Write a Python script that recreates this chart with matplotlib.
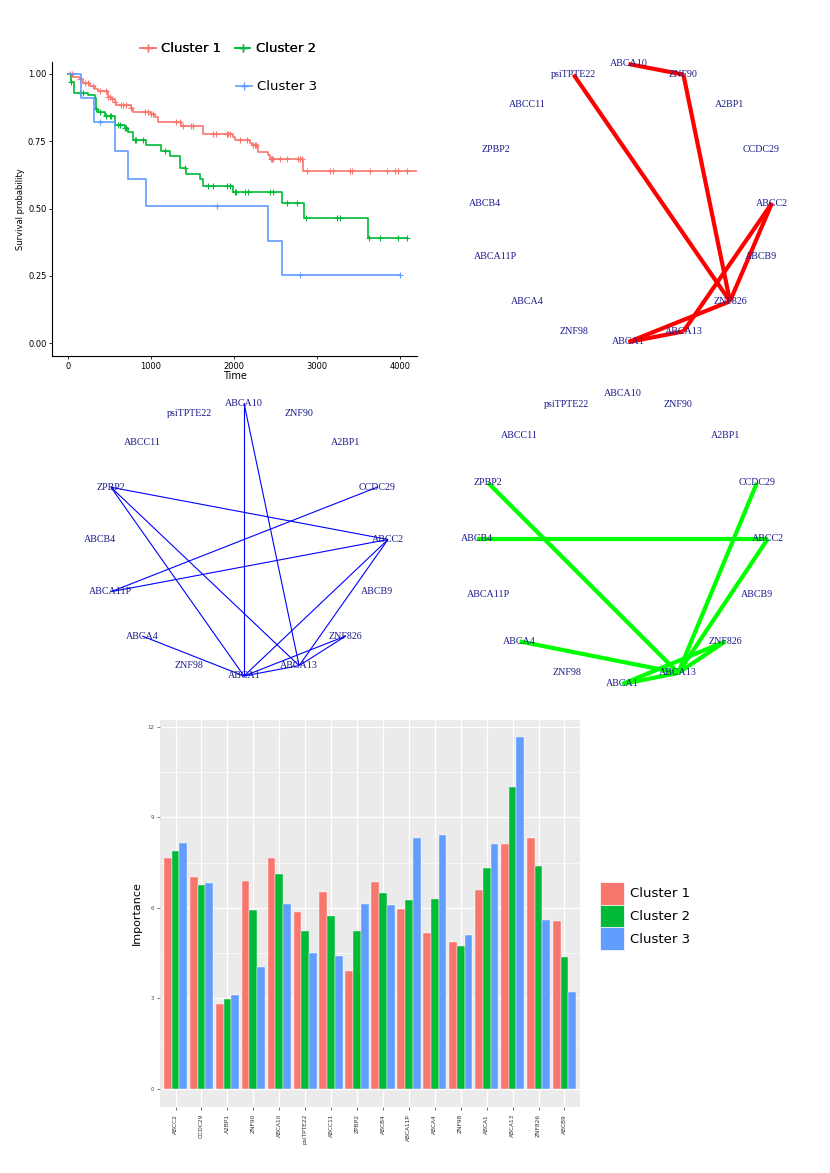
import matplotlib
matplotlib.use("Agg")
import matplotlib.pyplot as plt
from matplotlib.lines import Line2D
from matplotlib.patches import Patch
import numpy as np

W, H = 830, 1173

# ---- data ----
genes = ["ABCC2", "CCDC29", "A2BP1", "ZNF90", "ABCA10", "psiTPTE22", "ABCC11", "ZPBP2",
         "ABCB4", "ABCA11P", "ABCA4", "ZNF98", "ABCA1", "ABCA13", "ZNF826", "ABCB9"]
clusters = ["Cluster 1", "Cluster 2", "Cluster 3"]
colors = ["#F8766D", "#00BA38", "#619CFF"]

imp1 = [7.66, 7.03, 2.80, 6.90, 7.66, 5.85, 6.53, 3.91, 6.87, 5.95, 5.16, 4.86, 6.61, 8.12, 8.32, 5.57]
imp2 = [7.88, 6.76, 2.97, 5.93, 7.11, 5.25, 5.72, 5.22, 6.51, 6.26, 6.30, 4.73, 7.34, 10.01, 7.40, 4.38]
imp3 = [8.16, 6.81, 3.10, 4.04, 6.14, 4.51, 4.41, 6.12, 6.10, 8.31, 8.42, 5.10, 8.12, 11.65, 5.60, 3.20]

# Kaplan-Meier steps (time, survival), last follow-up time, censor times
times1 = [0, 60, 141, 181, 261, 322, 362, 482, 523, 563, 583, 764, 784, 1005, 1045, 1085,
          1367, 1628, 1990, 2010, 2191, 2211, 2291, 2412, 2432, 2834]
surv1 = [1.0, 0.99, 0.98, 0.965, 0.955, 0.945, 0.935, 0.915, 0.905, 0.895, 0.885, 0.875, 0.86,
         0.85, 0.84, 0.82, 0.805, 0.775, 0.765, 0.755, 0.745, 0.735, 0.71, 0.70, 0.685, 0.64]
end1 = 4300
cens1 = [20, 52, 141, 201, 241, 302, 382, 454, 482, 503, 535, 563, 643, 663, 704, 764, 925, 965,
         1005, 1025, 1307, 1347, 1387, 1487, 1508, 1749, 1789, 1910, 1930, 1950, 2070, 2151,
         2231, 2251, 2271, 2440, 2452, 2472, 2553, 2633, 2774, 2794, 2814, 2874, 3156, 3196,
         3397, 3417, 3638, 3839, 3940, 3980, 4080]

times2 = [0, 32, 68, 241, 322, 342, 362, 442, 563, 683, 724, 784, 945, 1126, 1226, 1347, 1427,
          1588, 1628, 1990, 2573, 2842, 3618]
surv2 = [1.0, 0.97, 0.93, 0.92, 0.91, 0.87, 0.86, 0.845, 0.81, 0.80, 0.785, 0.755, 0.735, 0.715,
         0.695, 0.65, 0.63, 0.61, 0.585, 0.56, 0.52, 0.465, 0.39]
end2 = 4088
cens2 = [40, 141, 181, 342, 382, 462, 503, 523, 603, 623, 683, 704, 804, 824, 905, 1166, 1407,
         1688, 1749, 1910, 1950, 2010, 2030, 2131, 2171, 2432, 2472, 2633, 2754, 2866, 3236,
         3276, 3630, 3759, 3980, 4080]

times3 = [0, 161, 314, 563, 724, 945, 2412, 2573]
surv3 = [1.0, 0.91, 0.82, 0.715, 0.61, 0.51, 0.38, 0.255]
end3 = 4000
cens3 = [390, 1797, 2794, 4000]

# network edges per cluster
edges1 = [("ABCA10", "ZNF90"), ("psiTPTE22", "ZNF826"), ("ZNF90", "ZNF826"), ("ABCC2", "ZNF826"),
          ("ABCC2", "ABCA13"), ("ZNF826", "ABCA1"), ("ABCA1", "ABCA13")]
edges2 = [("ABCA10", "ABCA1"), ("ABCA10", "ABCA13"), ("ZPBP2", "ABCC2"), ("ZPBP2", "ABCA1"),
          ("ZPBP2", "ABCA13"), ("CCDC29", "ABCA11P"), ("ABCC2", "ABCA11P"), ("ABCC2", "ABCA1"),
          ("ABCC2", "ABCA13"), ("ABCA4", "ABCA1"), ("ZNF826", "ABCA1"), ("ZNF826", "ABCA13"),
          ("ABCA1", "ABCA13")]
edges3 = [("ZPBP2", "ABCA13"), ("ABCB4", "ABCC2"), ("CCDC29", "ABCA13"), ("ABCC2", "ABCA13"),
          ("ABCA4", "ABCA13"), ("ZNF826", "ABCA1"), ("ZNF826", "ABCA13"), ("ABCA1", "ABCA13")]

fig = plt.figure(figsize=(W / 100, H / 100), dpi=100)


def px_axes(left, top, right, bottom):
    return fig.add_axes([left / W, 1 - bottom / H, (right - left) / W, (bottom - top) / H])


# ---- survival plot ----
ax = px_axes(52, 62, 417, 356)
km = [(times1, surv1, end1, cens1), (times2, surv2, end2, cens2), (times3, surv3, end3, cens3)]
for (t, s, e, c), col in zip(km, colors):
    ax.step(t + [e], s + [s[-1]], where="post", color=col, lw=1.2)
    idx = np.searchsorted(t, c, side="right") - 1
    ax.plot(c, np.array(s)[idx], "+", color=col, ms=4, mew=0.8, ls="none")
ax.set_xlim(-193, 4205)
ax.set_ylim(-0.047, 1.044)
ax.set_xticks([0, 1000, 2000, 3000, 4000])
ax.set_yticks([0, 0.25, 0.5, 0.75, 1.0])
ax.set_yticklabels(["0.00", "0.25", "0.50", "0.75", "1.00"])
ax.tick_params(labelsize=6, length=2.5, width=0.6, pad=1.5)
ax.spines[["top", "right"]].set_visible(False)
ax.set_xlabel("Time", fontsize=7, labelpad=0)
ax.set_ylabel("Survival probability", fontsize=6, labelpad=2)

h = [Line2D([], [], color=c, marker="+", lw=1.2, ms=6) for c in colors]
leg1 = fig.legend(h[:2], clusters[:2], loc="center", bbox_to_anchor=(228 / W, 1 - 49 / H),
                  ncol=2, frameon=False, fontsize=9.5, handlelength=1.2, handletextpad=0.4,
                  columnspacing=1.0)
fig.legend(h[2:], clusters[2:], loc="center", bbox_to_anchor=(277 / W, 1 - 87 / H),
           frameon=False, fontsize=9.5, handlelength=1.2, handletextpad=0.4)
fig.add_artist(leg1)


# ---- networks ----
def network(cx, cy, rx, ry, edges, col, lw):
    a = px_axes(cx - 1.3 * rx, cy - 1.3 * ry, cx + 1.3 * rx, cy + 1.3 * ry)
    a.set_xlim(-1.3, 1.3)
    a.set_ylim(-1.3, 1.3)
    a.axis("off")
    ang = 2 * np.pi * np.arange(len(genes)) / len(genes)
    pos = {g: (np.cos(t), np.sin(t)) for g, t in zip(genes, ang)}
    for u, v in edges:
        a.plot([pos[u][0], pos[v][0]], [pos[u][1], pos[v][1]], color=col, lw=lw,
               solid_capstyle="butt", zorder=1)
    for g in genes:
        a.text(pos[g][0], pos[g][1], g, ha="center", va="center", fontsize=7.2,
               family="Liberation Serif", color="#1a1a8a", zorder=2)


network(628.5, 203, 143.5, 139, edges1, "#FF0000", 3.0)
network(244, 539.5, 144, 136.5, edges2, "#0000FF", 0.8)
network(622.5, 538.5, 145.5, 145.5, edges3, "#00FF00", 3.0)

# ---- importance bar chart ----
bx = px_axes(160, 720, 580, 1107)
bx.set_facecolor("#EBEBEB")
x = np.arange(1, len(genes) + 1)
wd = 0.3
for k, (vals, col) in enumerate(zip([imp1, imp2, imp3], colors)):
    bx.bar(x + (k - 1) * wd, vals, width=wd, color=col, edgecolor="white", linewidth=0.3,
           zorder=3)
bx.set_xlim(0.4, 16.6)
bx.set_ylim(-0.6, 12.23)
bx.set_xticks(x)
bx.set_xticklabels(genes, rotation=90, fontsize=4.2, color="#4D4D4D")
bx.set_yticks([0, 3, 6, 9, 12])
bx.set_yticks([1.5, 4.5, 7.5, 10.5], minor=True)
bx.tick_params(axis="y", labelsize=4, colors="#4D4D4D", length=2, width=0.5, pad=2)
bx.tick_params(axis="x", length=2, width=0.5, colors="#333333", pad=3)
bx.tick_params(axis="y", which="minor", length=0)
bx.grid(which="major", color="white", lw=0.9, zorder=0)
bx.grid(which="minor", color="white", lw=0.45, zorder=0)
for sp in bx.spines.values():
    sp.set_visible(False)
bx.set_ylabel("Importance", fontsize=8)

ph = [Patch(facecolor=c, edgecolor="white", lw=0.5) for c in colors]
fig.legend(ph, clusters, loc="center left", bbox_to_anchor=(588 / W, 1 - 916 / H),
           frameon=False, fontsize=9.5, handlelength=1.8, handleheight=2.3,
           labelspacing=0.0, handletextpad=0.5)

fig.savefig("out.png", dpi=100)
